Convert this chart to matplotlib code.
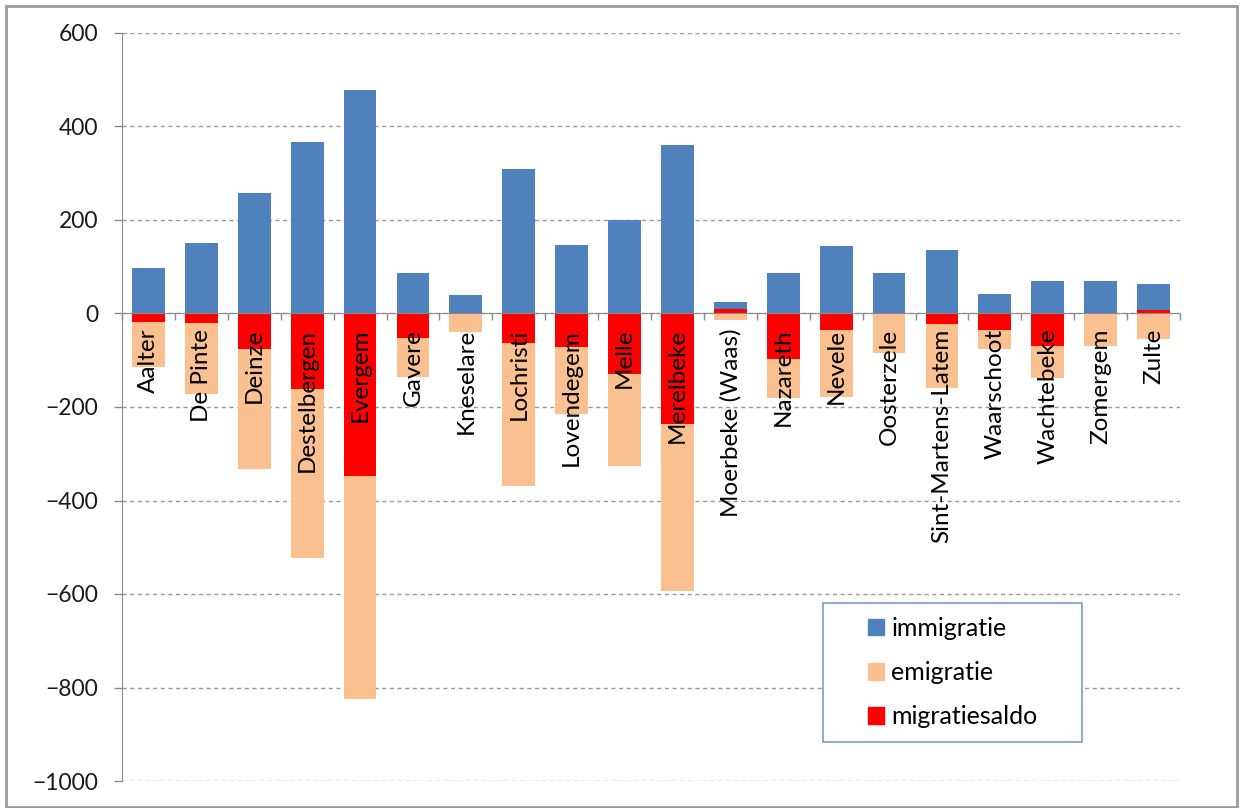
import matplotlib
matplotlib.use("Agg")
import matplotlib.pyplot as plt
from matplotlib.patches import Patch, Rectangle
import numpy as np

gemeenten = ["Aalter", "De Pinte", "Deinze", "Destelbergen", "Evergem", "Gavere",
             "Kneselare", "Lochristi", "Lovendegem", "Melle", "Merelbeke",
             "Moerbeke (Waas)", "Nazareth", "Nevele", "Oosterzele",
             "Sint-Martens-Latem", "Waarschoot", "Wachtebeke", "Zomergem", "Zulte"]
immigratie = [97, 151, 258, 366, 478, 87, 39, 310, 146, 201, 361, 24, 87, 144,
              87, 135, 41, 69, 69, 63]
emigratie = [-115, -172, -332, -524, -824, -135, -39, -370, -215, -326, -594, -14,
             -181, -178, -84, -160, -75, -139, -70, -54]
migratiesaldo = [-18, -21, -77, -161, -347, -52, 0, -63, -71, -130, -236, 10, -97,
                 -35, 0, -23, -35, -70, 0, 8]

plt.rcParams['font.family'] = ['Lato', 'DejaVu Sans']

BLUE = '#4F81BD'
PEACH = '#FAC090'
RED = '#FF0000'
GRAY = '#8C8C8C'

fig = plt.figure(figsize=(12.41, 8.08), dpi=100)
ax = fig.add_axes([122 / 1241, 1 - 781 / 808, (1180 - 122) / 1241, (781 - 33) / 808])

x = np.arange(len(gemeenten))
w = 0.62
ax.bar(x, immigratie, w, color=BLUE, zorder=2)
ax.bar(x, emigratie, w, color=PEACH, zorder=2)
ax.bar(x, migratiesaldo, w, color=RED, zorder=3)

ax.set_xlim(-0.5, len(gemeenten) - 0.5)
ax.set_ylim(-1000, 600)
ax.set_yticks(np.arange(-1000, 601, 200))
ax.tick_params(axis='y', direction='out', length=6, width=1, color=GRAY,
               labelsize=16.5, pad=11, labelcolor='#1a1a1a')
ax.yaxis.grid(True, color='#9a9a9a', linestyle=(0, (3, 2.5)), linewidth=1, zorder=0)

# x-as op nul met streepjes tussen de categorieën
ax.spines['bottom'].set_position(('data', 0))
ax.spines['bottom'].set_color(GRAY)
ax.spines['bottom'].set_zorder(4)
ax.spines['left'].set_color(GRAY)
ax.spines['top'].set_visible(False)
ax.spines['right'].set_visible(False)
ax.set_xticks(np.arange(-0.5, len(gemeenten), 1.0))
ax.set_xticklabels([])
ax.tick_params(axis='x', direction='out', length=5, width=1, color=GRAY)

for i, naam in enumerate(gemeenten):
    ax.annotate(naam, xy=(i, 0), xytext=(0, -11), textcoords='offset points',
                rotation=90, ha='center', va='top', fontsize=17.5, color='black',
                zorder=5)

handles = [Patch(color=BLUE, label='immigratie'),
           Patch(color=PEACH, label='emigratie'),
           Patch(color=RED, label='migratiesaldo')]
lx0, ly0, lx1, ly1 = 823, 603, 1082, 742
fig.add_artist(Rectangle((lx0 / 1241, 1 - ly1 / 808), (lx1 - lx0) / 1241,
                         (ly1 - ly0) / 808, transform=fig.transFigure,
                         facecolor='white', edgecolor='#7A9CCB', linewidth=1.2))
fig.legend(handles=handles, loc='center',
           bbox_to_anchor=((lx0 + lx1) / 2 / 1241, 1 - (ly0 + ly1) / 2 / 808),
           frameon=False, fontsize=18, handlelength=0.65, handleheight=0.65,
           handletextpad=0.3, labelspacing=0.85)

fig.add_artist(Rectangle((6 / 1241, 1 / 808), 1231 / 1241, 801 / 808,
                         transform=fig.transFigure, fill=False,
                         edgecolor='#9a9a9a', linewidth=2))

fig.savefig('out.png', dpi=100)
